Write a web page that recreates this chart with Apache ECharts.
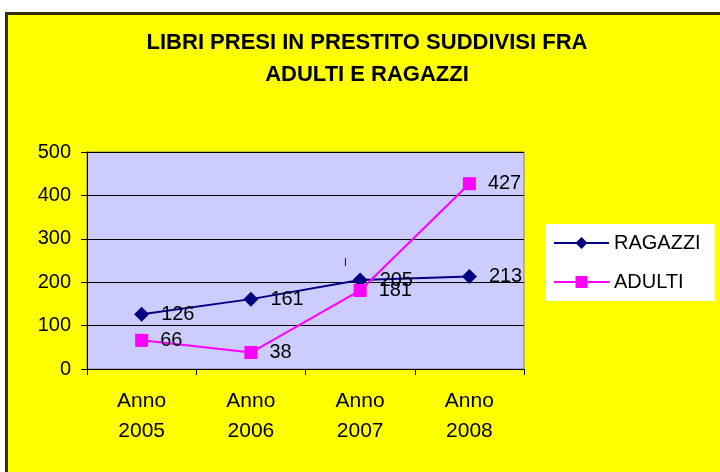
<!DOCTYPE html>
<html>
<head>
<meta charset="utf-8">
<script src="https://cdn.jsdelivr.net/npm/echarts@6/dist/echarts.min.js"></script>
<style>
  body { margin: 0; background: #ffffff; }
  #frame {
    position: absolute; left: 5px; top: 12px; width: 720px; height: 470px;
    background: #ffff00; border-left: 3px solid #332f00; border-top: 3px solid #332f00;
  }
  #chart { position: absolute; left: 0; top: 0; width: 720px; height: 472px; }
</style>
</head>
<body>
<div id="frame"></div>
<div id="chart"></div>
<script>
const categories = ['Anno\n2005', 'Anno\n2006', 'Anno\n2007', 'Anno\n2008']
const ragazzi = [126, 161, 205, 213]
const adulti = [66, 38, 181, 427]
const yTicks = { min: 0, max: 500, interval: 100 }

const font = 'Liberation Sans, Arial, sans-serif'
const chart = echarts.init(document.getElementById('chart'))

const labelStyle = {
  show: true,
  position: 'right',
  distance: 12,
  color: '#000',
  fontSize: 20,
  fontFamily: font
}

chart.setOption({
  textStyle: { fontFamily: font },
  title: {
    text: 'LIBRI PRESI IN PRESTITO SUDDIVISI FRA\nADULTI E RAGAZZI',
    left: 367,
    top: 27,
    padding: 0,
    textAlign: 'center',
    textStyle: {
      fontSize: 22,
      fontWeight: 'bold',
      color: '#000',
      lineHeight: 32,
      fontFamily: 'Liberation Sans Narrow, Arial Narrow, Liberation Sans, sans-serif'
    }
  },
  legend: {
    orient: 'vertical',
    left: 545,
    top: 224,
    padding: [9, 14, 9, 8],
    backgroundColor: '#ffffff',
    itemWidth: 55,
    itemHeight: 15,
    itemGap: 19,
    textStyle: { fontSize: 20, color: '#000', fontFamily: font },
    data: ['RAGAZZI', 'ADULTI']
  },
  grid: {
    left: 87,
    top: 152,
    width: 437,
    height: 217,
    show: true,
    backgroundColor: '#ccccff',
    borderColor: '#808080',
    borderWidth: 1
  },
  xAxis: {
    type: 'category',
    data: categories,
    boundaryGap: true,
    axisLine: { lineStyle: { color: '#000', width: 1 } },
    axisTick: { show: true, length: 6, lineStyle: { color: '#000' } },
    axisLabel: {
      color: '#000',
      fontSize: 21,
      lineHeight: 30,
      margin: 17,
      fontFamily: font
    }
  },
  yAxis: {
    type: 'value',
    min: yTicks.min,
    max: yTicks.max,
    interval: yTicks.interval,
    axisLine: { show: true, lineStyle: { color: '#000', width: 1 } },
    axisTick: { show: true, length: 6, lineStyle: { color: '#000' } },
    axisLabel: { color: '#000', fontSize: 20, margin: 16, fontFamily: font },
    splitLine: { lineStyle: { color: '#000', width: 1 } }
  },
  graphic: [
    { type: 'text', left: 344, top: 258, style: { text: 'I', fontSize: 10, fill: '#000', fontFamily: font } }
  ],
  series: [
    {
      name: 'RAGAZZI',
      type: 'line',
      data: ragazzi,
      symbol: 'diamond',
      symbolSize: 15,
      color: '#000080',
      lineStyle: { width: 2, color: '#000080' },
      itemStyle: { color: '#000080' },
      label: labelStyle
    },
    {
      name: 'ADULTI',
      type: 'line',
      data: adulti,
      symbol: 'rect',
      symbolSize: 13,
      color: '#ff00ff',
      lineStyle: { width: 2, color: '#ff00ff' },
      itemStyle: { color: '#ff00ff' },
      label: labelStyle
    }
  ]
})
</script>
</body>
</html>
